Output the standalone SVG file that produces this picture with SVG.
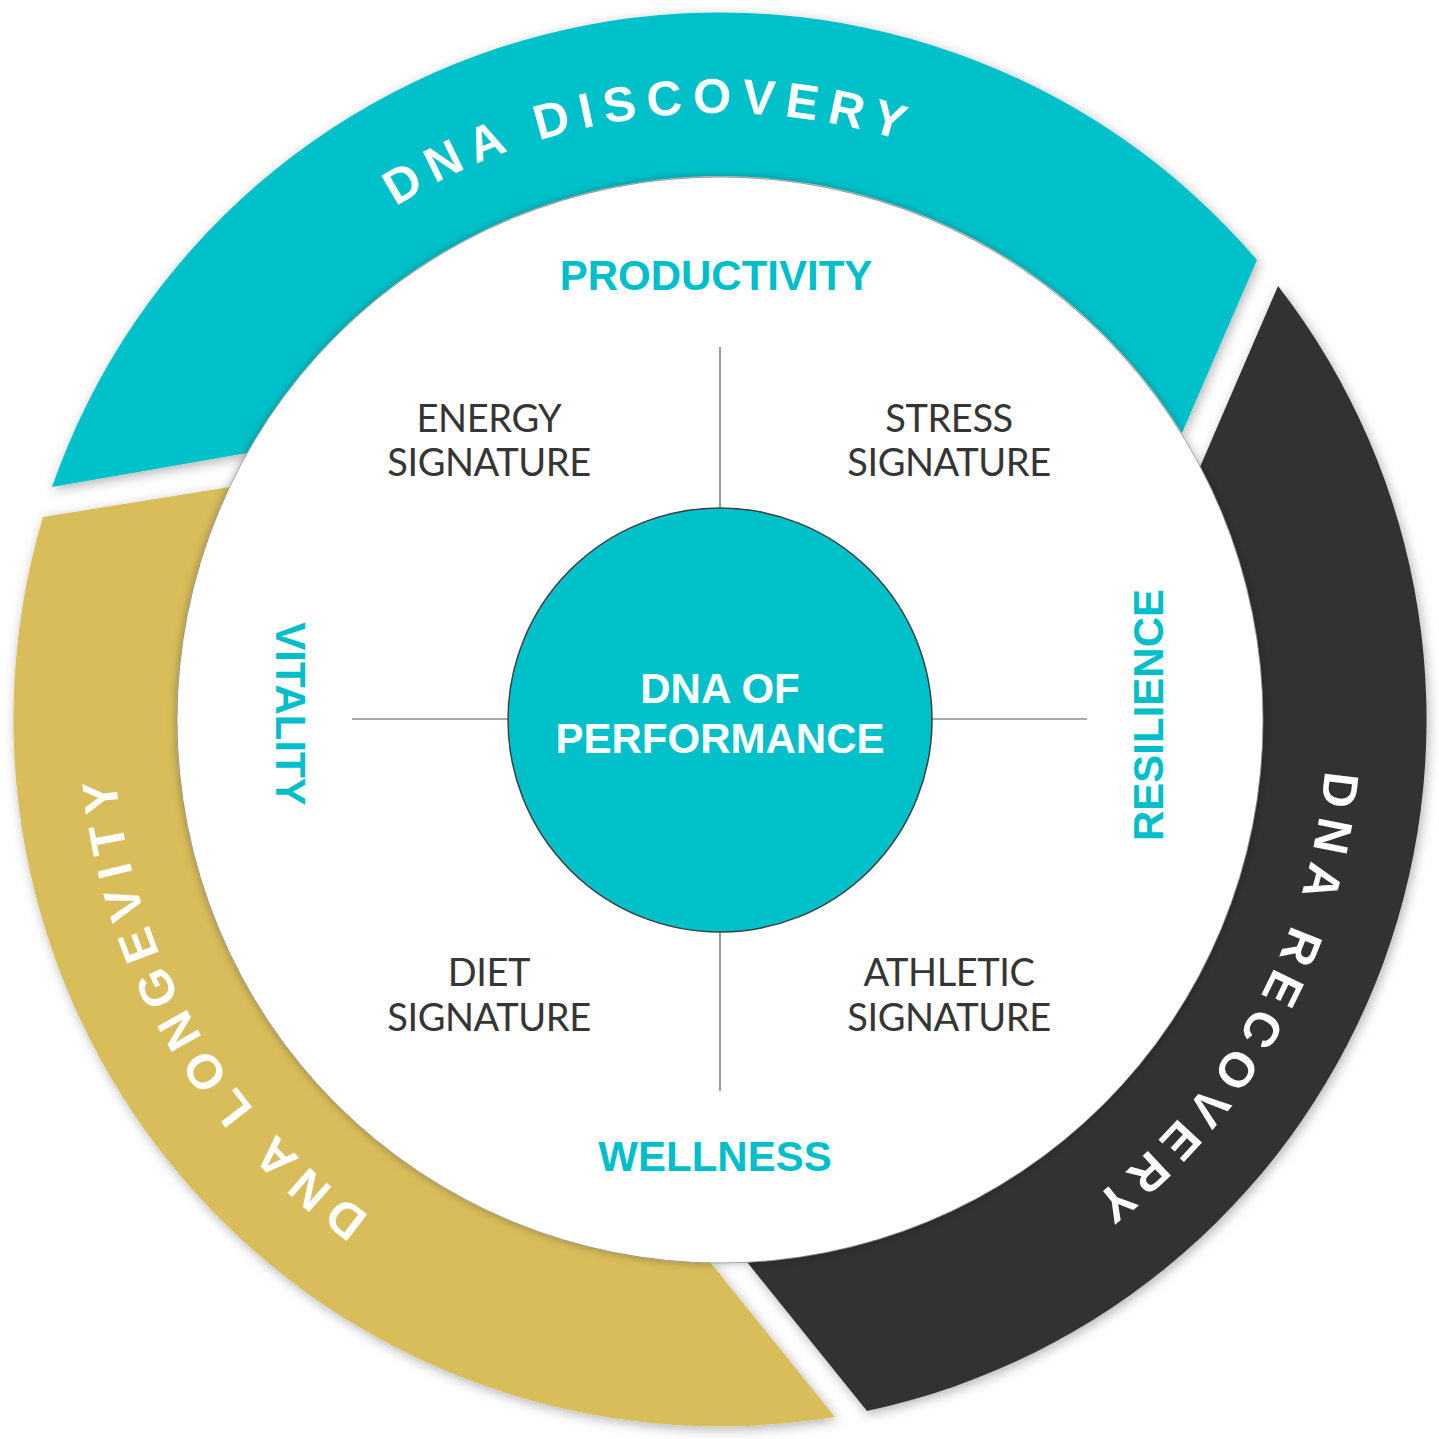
<svg xmlns="http://www.w3.org/2000/svg" width="1439" height="1439" viewBox="0 0 1439 1439">
  <style>
    .ring-text { font-family: "Liberation Sans", Arial, sans-serif; font-weight: bold; font-size: 49px; fill: #ffffff; letter-spacing: 10px; }
    .cat { font-family: "Liberation Sans", Arial, sans-serif; font-weight: bold; font-size: 42px; fill: #00BFCA; }
    .center-text { font-family: "Liberation Sans", Arial, sans-serif; font-weight: bold; font-size: 42px; fill: #ffffff; text-anchor: middle; }
    .sig { font-family: Lato, "Open Sans", sans-serif; font-size: 38px; letter-spacing: -0.4px; fill: #353535; text-anchor: middle; }
    .divider { stroke: #555555; stroke-width: 1.2; fill: none; }
  </style>
  <defs>
    <filter id="ringShadow" x="-10%" y="-10%" width="120%" height="120%">
      <feDropShadow dx="2" dy="3" stdDeviation="6" flood-color="#000000" flood-opacity="0.3"/>
    </filter>
    <filter id="discShadow" x="-10%" y="-10%" width="120%" height="120%">
      <feDropShadow dx="0" dy="0" stdDeviation="5" flood-color="#000000" flood-opacity="0.3"/>
    </filter>
    <path id="arcDiscovery" d="M 395.9 206.7 A 607 607 0 0 1 1169.2 311.7"/>
    <path id="arcRecovery" d="M 1324.9 770.5 A 607 607 0 0 1 775.3 1324.5"/>
    <path id="arcLongevity" d="M 370.1 1216.0 A 607 607 0 0 1 170.8 461.5"/>
  </defs>

  <rect width="1439" height="1439" fill="#ffffff"/>

  <g id="segment-discovery" filter="url(#ringShadow)">
    <path d="M 52 487 A 707 707 0 0 1 1257 260 L 1182 433 A 543 543 0 0 0 247 453 Z" fill="#00C1CA"/>
  </g>
  <g id="segment-recovery" filter="url(#ringShadow)">
    <path d="M 1278 286 A 707 707 0 0 1 867 1411 L 747 1262 A 543 543 0 0 0 1200 467 Z" fill="#333333"/>
  </g>
  <g id="segment-longevity" filter="url(#ringShadow)">
    <path d="M 835 1417 A 707 707 0 0 1 43 517 L 230 487 A 543 543 0 0 0 710 1262 Z" fill="#D9BD5A"/>
  </g>

  <g id="ring-labels">
    <text class="ring-text"><textPath href="#arcDiscovery">DNA DISCOVERY</textPath></text>
    <text class="ring-text"><textPath href="#arcRecovery">DNA RECOVERY</textPath></text>
    <text class="ring-text"><textPath href="#arcLongevity">DNA LONGEVITY</textPath></text>
  </g>

  <g id="inner-disc">
    <circle cx="720" cy="720" r="543" fill="#ffffff" stroke="#8a8a8a" stroke-width="0.8" filter="url(#discShadow)"/>
  </g>

  <g id="connectors">
    <line class="divider" x1="720" y1="347" x2="720" y2="508"/>
    <line class="divider" x1="720" y1="932" x2="720" y2="1091"/>
    <line class="divider" x1="352" y1="719" x2="508" y2="719"/>
    <line class="divider" x1="932" y1="719" x2="1087" y2="719"/>
  </g>

  <g id="label-productivity">
    <text class="cat" x="716" y="290" text-anchor="middle">PRODUCTIVITY</text>
  </g>
  <g id="label-wellness">
    <text class="cat" x="715" y="1171" text-anchor="middle">WELLNESS</text>
  </g>
  <g id="label-vitality">
    <text class="cat" text-anchor="middle" transform="translate(276 714) rotate(90)">VITALITY</text>
  </g>
  <g id="label-resilience">
    <text class="cat" text-anchor="middle" transform="translate(1163 715) rotate(-90)">RESILIENCE</text>
  </g>

  <g id="node-energy">
    <text class="sig" x="489" y="432">ENERGY</text>
    <text class="sig" x="489" y="476">SIGNATURE</text>
  </g>
  <g id="node-stress">
    <text class="sig" x="949" y="432">STRESS</text>
    <text class="sig" x="949" y="476">SIGNATURE</text>
  </g>
  <g id="node-diet">
    <text class="sig" x="489" y="986">DIET</text>
    <text class="sig" x="489" y="1031">SIGNATURE</text>
  </g>
  <g id="node-athletic">
    <text class="sig" x="949" y="986">ATHLETIC</text>
    <text class="sig" x="949" y="1031">SIGNATURE</text>
  </g>

  <g id="node-center">
    <circle cx="720" cy="720" r="212" fill="#00C1CA" stroke="#3d3d3d" stroke-width="1.5"/>
    <text class="center-text" x="720" y="703">DNA OF</text>
    <text class="center-text" x="720" y="753">PERFORMANCE</text>
  </g>
</svg>
